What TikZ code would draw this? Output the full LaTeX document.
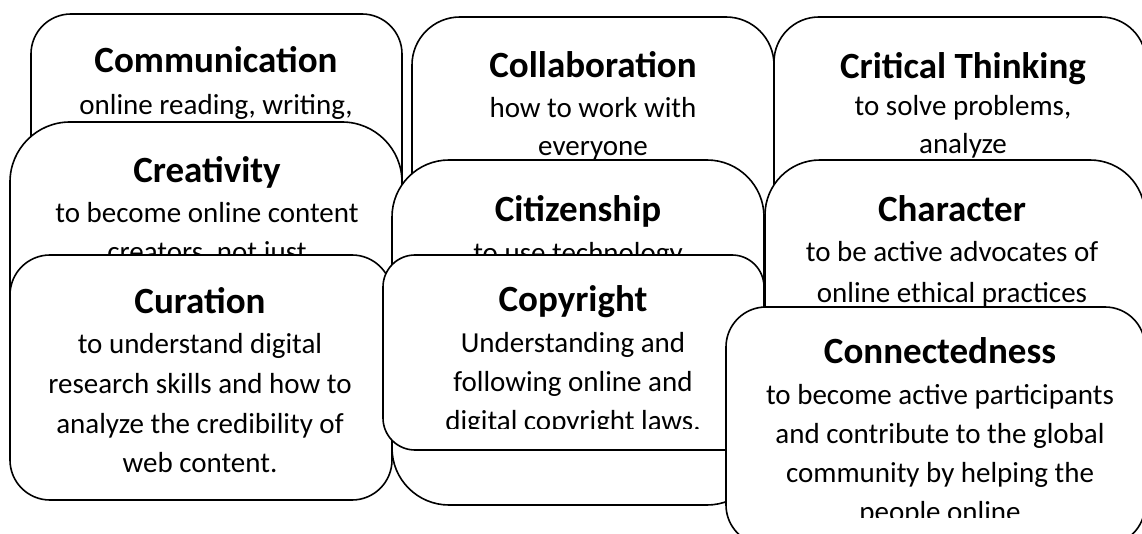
\documentclass[tikz,border=0pt]{standalone}
\usepackage{fontspec}
\setmainfont{Carlito}
\tikzset{
  card/.style={draw=black, fill=white, line width=1.6pt, inner sep=0pt, outer sep=0pt},
  ttl/.style={anchor=base, inner sep=0pt, font=\fontsize{37}{44}\selectfont\bfseries},
  bdy/.style={anchor=base, inner sep=0pt, font=\fontsize{29}{35}\selectfont},
}
\newcommand\cardbox[6]{%
  \node[card, rounded corners=#6pt, anchor=north west,
        minimum width={#4pt-#2pt}, minimum height={#5pt-#3pt}] (#1) at (#2,#3) {};}
\begin{document}
\begin{tikzpicture}[x=1pt,y=-1pt]
\useasboundingbox (0,0) rectangle (1142,534);
\clip (0,0) rectangle (1142,534);
\fill[white] (0,0) rectangle (1142,534);

\cardbox{comm}{31}{14}{402}{254}{40}
\node[ttl] (comm-t) at (216,73) {Communication};
\node[bdy] (comm-1) at (216,115) {online reading, writing,};

\cardbox{coll}{412}{17}{774}{305}{48}
\node[ttl] (coll-t) at (593,78) {Collaboration};
\node[bdy] (coll-1) at (593,118) {how to work with};
\node[bdy] (coll-2) at (593,156) {everyone};

\cardbox{crit}{774}{17}{1146}{287}{45}
\node[ttl] (crit-t) at (963,79) {Critical Thinking};
\node[bdy] (crit-1) at (963,116) {to solve problems,};
\node[bdy] (crit-2) at (963,154) {analyze};

\cardbox{crea}{10}{122}{402}{482}{60}
\node[ttl] (crea-t) at (207,183) {Creativity};
\node[bdy] (crea-1) at (207,223) {to become online content};
\node[bdy] (crea-2) at (207,262) {creators, not just};

\cardbox{citi}{392}{160}{764}{505}{57}
\node[ttl] (citi-t) at (578,222) {Citizenship};
\node[bdy] (citi-1) at (578,263) {to use technology};

\cardbox{char}{765}{160}{1145}{490}{55}
\node[ttl] (char-t) at (952,222) {Character};
\node[bdy] (char-1) at (952,262) {to be active advocates of};
\node[bdy] (char-2) at (952,302) {online ethical practices};

\cardbox{cura}{10}{255}{392}{500}{40}
\node[ttl] (cura-t) at (200,313) {Curation};
\node[bdy] (cura-1) at (200,353) {to understand digital};
\node[bdy] (cura-2) at (200,393) {research skills and how to};
\node[bdy] (cura-3) at (200,433) {analyze the credibility of};
\node[bdy] (cura-4) at (200,472) {web content.};

\cardbox{copy}{383}{255}{764}{450}{32}
\begin{scope}
\clip (383,255) rectangle (764,428);
\node[ttl] (copy-t) at (573,312) {Copyright};
\node[bdy] (copy-1) at (573,352) {Understanding and};
\node[bdy] (copy-2) at (573,391) {following online and};
\node[bdy] (copy-3) at (573,430) {digital copyright laws.};
\end{scope}

\cardbox{conn}{726}{307}{1145}{545}{40}
\begin{scope}
\clip (726,307) rectangle (1145,517);
\node[ttl] (conn-t) at (940,363) {Connectedness};
\node[bdy] (conn-1) at (940,404) {to become active participants};
\node[bdy] (conn-2) at (940,443) {and contribute to the global};
\node[bdy] (conn-3) at (940,482) {community by helping the};
\node[bdy] (conn-4) at (940,521) {people online};
\end{scope}
\end{tikzpicture}
\end{document}
